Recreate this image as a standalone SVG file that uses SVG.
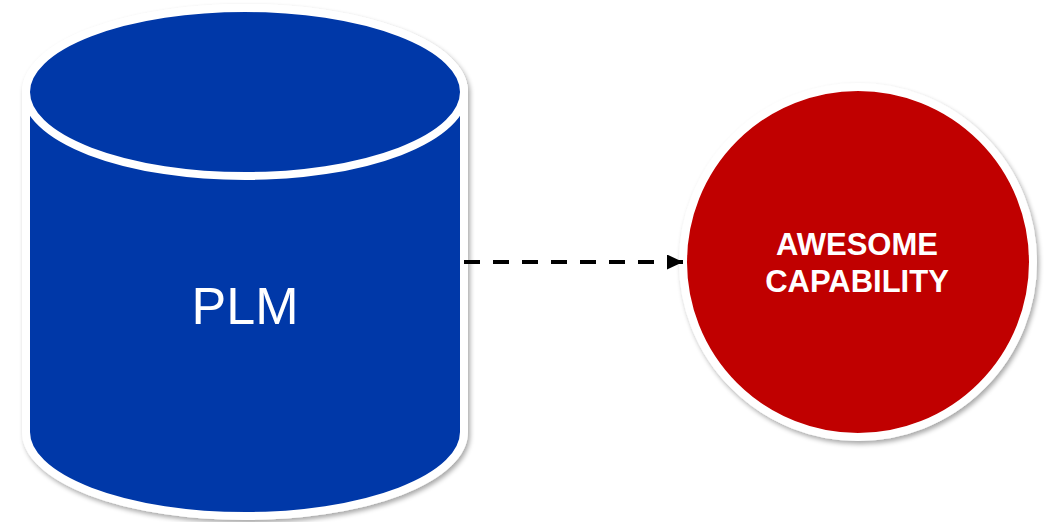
<svg xmlns="http://www.w3.org/2000/svg" width="1049" height="522" viewBox="0 0 1049 522">
  <style>
    .shape { stroke: #ffffff; stroke-width: 8; }
    .db { fill: #0038a8; }
    .cap { fill: #c00000; }
    .label { fill: #ffffff; font-family: "Liberation Sans", Arial, sans-serif; text-anchor: middle; }
    .link { fill: none; stroke: #000000; stroke-width: 4; stroke-dasharray: 16 13; }
  </style>
  <defs>
    <filter id="softShadow" x="-10%" y="-10%" width="125%" height="125%">
      <feGaussianBlur in="SourceAlpha" stdDeviation="2.5"/>
      <feOffset dx="2" dy="3" result="blur"/>
      <feComponentTransfer><feFuncA type="linear" slope="0.35"/></feComponentTransfer>
      <feMerge><feMergeNode/><feMergeNode in="SourceGraphic"/></feMerge>
    </filter>
    <marker id="arrowHead" markerWidth="16" markerHeight="15" refX="16" refY="7.5" orient="auto" markerUnits="userSpaceOnUse">
      <path d="M0,0 L16,7.5 L0,15 Z" fill="#000000"/>
    </marker>
  </defs>

  <!-- database cylinder -->
  <g id="plm">
    <g filter="url(#softShadow)">
      <path class="shape db" d="M26,92 A219,84 0 0 1 464,92 L464,432 A219,84 0 0 1 26,432 Z"/>
      <ellipse class="shape db" cx="245" cy="92" rx="219" ry="84"/>
    </g>
    <text class="label" x="245" y="324" font-size="52">PLM</text>
  </g>

  <!-- capability circle -->
  <g id="capability">
    <circle class="shape cap" cx="858" cy="262" r="175" filter="url(#softShadow)"/>
    <text class="label" x="857" y="255" font-size="31" font-weight="bold">AWESOME</text>
    <text class="label" x="857" y="292" font-size="31" font-weight="bold">CAPABILITY</text>
  </g>

  <!-- connectors -->
  <g id="connectors">
    <path class="link" d="M464,262 L683,262" marker-end="url(#arrowHead)"/>
  </g>
</svg>
